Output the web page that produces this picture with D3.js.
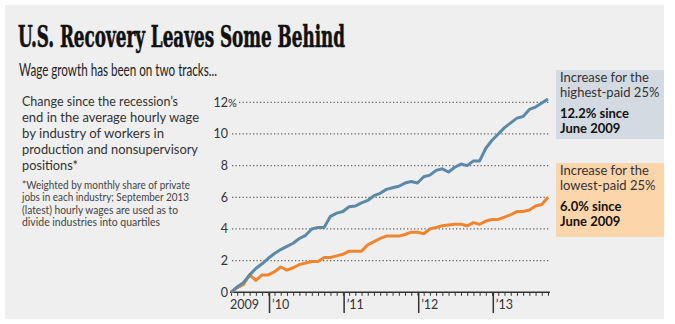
<!DOCTYPE html>
<html>
<head>
<meta charset="utf-8">
<script src="https://cdn.jsdelivr.net/npm/d3@7"></script>
<style>
  body { margin: 0; background: #fff; }
  text { font-family: Lato, "Open Sans", sans-serif; fill: #222; }
</style>
</head>
<body>
<div id="chart"></div>
<script>
// Month index 0 = June 2009 ... 51 = September 2013
const months = d3.range(0, 52);

// Change in average hourly wage (%), highest-paid 25%
const highPaid = [0, 0.35, 0.6, 1.1, 1.5, 1.8, 2.15, 2.45, 2.7, 2.9, 3.1, 3.4, 3.6, 4.0, 4.1, 4.1,
  4.8, 5.0, 5.1, 5.4, 5.45, 5.65, 5.8, 6.1, 6.25, 6.5, 6.6, 6.7, 6.9, 7.0, 6.9, 7.3,
  7.4, 7.7, 7.8, 7.6, 7.9, 8.1, 8.0, 8.3, 8.3, 9.1, 9.6, 10.0, 10.4, 10.7, 11.0, 11.1,
  11.55, 11.7, 11.95, 12.2];

// Change in average hourly wage (%), lowest-paid 25%
const lowPaid = [0, 0.3, 0.5, 1.1, 0.75, 1.1, 1.1, 1.3, 1.6, 1.4, 1.55, 1.75, 1.85, 1.95, 1.95, 2.2,
  2.2, 2.3, 2.4, 2.6, 2.6, 2.6, 3.0, 3.2, 3.4, 3.55, 3.55, 3.55, 3.65, 3.8, 3.8, 3.7,
  4.0, 4.1, 4.2, 4.25, 4.3, 4.3, 4.2, 4.4, 4.3, 4.5, 4.6, 4.6, 4.75, 4.9, 5.1, 5.1,
  5.2, 5.45, 5.55, 6.0];

const yTicks = [0, 2, 4, 6, 8, 10, 12];
// year boundaries sit just after each December
const yearTicks = [6.2, 18.2, 30.2, 42.2];
const yearLabels = ["\u201910", "\u201911", "\u201912", "\u201913"];

const width = 675, height = 324;

const svg = d3.select("#chart").append("svg")
  .attr("width", width)
  .attr("height", height);

// grey panel
svg.append("rect")
  .attr("x", 5).attr("y", 5)
  .attr("width", 659).attr("height", 314)
  .attr("fill", "#efefef");

// Title and subtitle
svg.append("text")
  .attr("x", 18).attr("y", 47)
  .attr("textLength", 327).attr("lengthAdjust", "spacingAndGlyphs")
  .style("font-family", "'DejaVu Serif Condensed', 'DejaVu Serif', serif")
  .style("font-weight", "bold")
  .style("font-size", "29px")
  .style("fill", "#111")
  .style("stroke", "#111")
  .style("stroke-width", 0.6)
  .text("U.S. Recovery Leaves Some Behind");

svg.append("text")
  .attr("x", 19).attr("y", 76)
  .attr("textLength", 198).attr("lengthAdjust", "spacingAndGlyphs")
  .style("font-size", "18px")
  .text("Wage growth has been on two tracks...");

// Left description
const desc = [
  ["Change since the recession\u2019s", 156],
  ["end in the average hourly wage", 177],
  ["by industry of workers in", 142],
  ["production and nonsupervisory", 176],
  ["positions*", 56]
];
desc.forEach((d, i) => {
  svg.append("text")
    .attr("x", 22).attr("y", 106 + i * 16)
    .attr("textLength", d[1]).attr("lengthAdjust", "spacingAndGlyphs")
    .style("font-size", "14px")
    .style("fill", "#333")
    .text(d[0]);
});

const notes = [
  ["*Weighted by monthly share of private", 168],
  ["jobs in each industry; September 2013", 167],
  ["(latest) hourly wages are used as to", 156],
  ["divide industries into quartiles", 138]
];
notes.forEach((d, i) => {
  svg.append("text")
    .attr("x", 22).attr("y", 189 + i * 12.3)
    .attr("textLength", d[1]).attr("lengthAdjust", "spacingAndGlyphs")
    .style("font-size", "11px")
    .style("fill", "#444")
    .text(d[0]);
});

// Scales
const x = d3.scaleLinear().domain([0, 51]).range([231, 548]);
const y = d3.scaleLinear().domain([0, 12]).range([292.3, 102.3]);

// gridlines
svg.append("g")
  .selectAll("line")
  .data(yTicks.filter(d => d > 0))
  .join("line")
  .attr("x1", d => d === 12 ? 239 : 232)
  .attr("x2", 550)
  .attr("y1", d => y(d)).attr("y2", d => y(d))
  .attr("stroke", "#666")
  .attr("stroke-width", 1.3)
  .attr("stroke-dasharray", "1.3,2.2");

// y labels
svg.append("g")
  .selectAll("text")
  .data(yTicks)
  .join("text")
  .attr("x", 228)
  .attr("y", d => y(d) + 4.5)
  .attr("text-anchor", "end")
  .style("font-size", "12.5px")
  .style("fill", "#333")
  .text(d => d);
svg.append("text")
  .attr("x", 228).attr("y", y(12) + 4.5)
  .style("font-size", "11px")
  .style("fill", "#333")
  .text("%");

// x axis: minor month ticks
svg.append("g")
  .attr("transform", `translate(0,${y(0)})`)
  .call(d3.axisBottom(x).tickValues(months).tickSize(3.5).tickFormat(""))
  .call(g => g.select(".domain").attr("stroke", "#333").attr("stroke-width", 1.6)
    .attr("d", `M${x(0) - 1},0H550`))
  .call(g => g.selectAll(".tick line").attr("stroke", "#333").attr("stroke-width", 1));

// year ticks
svg.append("g")
  .selectAll("line")
  .data(yearTicks)
  .join("line")
  .attr("x1", d => x(d)).attr("x2", d => x(d))
  .attr("y1", y(0)).attr("y2", 313)
  .attr("stroke", "#333")
  .attr("stroke-width", 1.5);

svg.append("g")
  .selectAll("text")
  .data(yearTicks)
  .join("text")
  .attr("x", d => x(d) + 2.5)
  .attr("y", 309)
  .style("font-size", "12.5px")
  .style("fill", "#333")
  .text((d, i) => yearLabels[i]);

svg.append("text")
  .attr("x", 230).attr("y", 309)
  .style("font-size", "12.5px")
  .style("fill", "#333")
  .text("2009");

// lines
const line = d3.line().x((d, i) => x(months[i])).y(d => y(d));

svg.append("path")
  .datum(lowPaid)
  .attr("fill", "none")
  .attr("stroke", "#f0852d")
  .attr("stroke-width", 3)
  .attr("stroke-linejoin", "round")
  .attr("d", line);

svg.append("path")
  .datum(highPaid)
  .attr("fill", "none")
  .attr("stroke", "#5b8aa7")
  .attr("stroke-width", 3)
  .attr("stroke-linejoin", "round")
  .attr("d", line);

// annotation boxes
const boxes = [
  { y: 70, h: 69, fill: "#d3dae1", lines: ["Increase for the", "highest-paid 25%"], bold: ["12.2% since", "June 2009"] },
  { y: 163, h: 74, fill: "#fdd5ab", lines: ["Increase for the", "lowest-paid 25%"], bold: ["6.0% since", "June 2009"] }
];
boxes.forEach(b => {
  svg.append("rect")
    .attr("x", 556).attr("y", b.y)
    .attr("width", 108).attr("height", b.h)
    .attr("fill", b.fill);
  b.lines.forEach((t, i) => {
    svg.append("text")
      .attr("x", 560).attr("y", b.y + 12 + i * 15)
      .style("font-size", "13px")
      .style("fill", "#333")
      .text(t);
  });
  b.bold.forEach((t, i) => {
    svg.append("text")
      .attr("x", 560).attr("y", b.y + 48 + i * 15)
      .style("font-size", "13px")
      .style("font-weight", "bold")
      .style("fill", "#111")
      .text(t);
  });
});
</script>
</body>
</html>
